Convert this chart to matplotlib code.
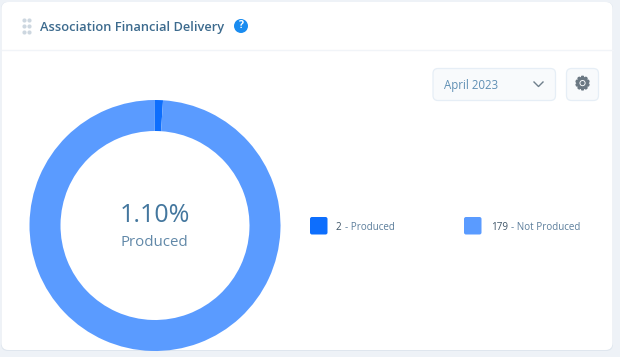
import matplotlib
matplotlib.use("Agg")
import matplotlib.pyplot as plt
import matplotlib.patheffects as pe
from matplotlib.patches import FancyBboxPatch, Circle

title = "Association Financial Delivery"
month = "April 2023"
categories = ["Produced", "Not Produced"]
values = [2, 179]
colors = ["#0d6efd", "#5a9bff"]
center_pct = "1.10%"

plt.rcParams['font.family'] = ['Open Sans', 'DejaVu Sans']
W, H = 620, 357
fig = plt.figure(figsize=(W/100, H/100), dpi=100, facecolor="#eef2f7")
bg = fig.add_axes([0, 0, 1, 1])
bg.set_xlim(0, W); bg.set_ylim(H, 0); bg.axis("off")

def rbox(x0, y0, x1, y1, r, fc, ec="none", lw=0, z=1):
    bg.add_patch(FancyBboxPatch((x0+r, y0+r), x1-x0-2*r, y1-y0-2*r,
                 boxstyle=f"round,pad={r},rounding_size={r}", fc=fc, ec=ec, lw=lw, zorder=z))

# card
rbox(1, 2, 613, 351, 7, "#dfe6ee", z=1)
rbox(1.5, 2, 612.5, 350, 7, "#ffffff", z=2)
bg.plot([1.5, 612.5], [50, 50], color="#f1f4f8", lw=1, zorder=3)

# drag dots
for dx in (23.5, 29):
    bg.scatter([dx]*3, [20, 26, 31.5], s=9, color="#cdd7e0", lw=0, zorder=4)

bg.text(39.5, 27.5, title, fontsize=9.25, color="#3d6b8e", weight=600, va="center", ha="left", zorder=4)
bg.add_patch(Circle((241, 26), 7, fc="#1a8cf0", ec="none", zorder=4))
bg.text(241, 26, "?", fontsize=7.5, color="white", weight="bold", ha="center", va="center", zorder=5)

# dropdown
rbox(433, 68.5, 555.5, 100.5, 5, "#f8fafc", "#e6eef6", 0.9, z=4)
bg.text(444, 85.5, month, fontsize=8.3, color="#5f8fb4", va="center", ha="left", zorder=5)
bg.plot([534, 538.5, 543], [82, 86.5, 82], color="#6f7f8c", lw=1.0, zorder=5)
rbox(566.5, 68.5, 598.5, 100.5, 5, "#f8fafc", "#e6eef6", 0.9, z=4)
gear = bg.text(582.5, 84.5, "\u2699", fontsize=13, color="#6b7883", family="DejaVu Sans",
               ha="center", va="center", zorder=5)
gear.set_path_effects([pe.withStroke(linewidth=1.1, foreground="#6b7883")])

# donut
cx, cy, R = 155, 225.5, 125.5
pie_ax = fig.add_axes([(cx-R)/W, 1-(cy+R)/H, 2*R/W, 2*R/H])
pie_ax.pie(values, colors=colors, startangle=90.3, counterclock=False, radius=1,
           wedgeprops=dict(width=31/R, linewidth=0))
pie_ax.set_xlim(-1, 1); pie_ax.set_ylim(-1, 1)
pie_ax.patch.set_alpha(0)

bg.text(155, 216, center_pct, fontsize=18, color="#44779e", ha="center", va="center", zorder=5)
bg.text(154, 243, categories[0], fontsize=10.8, color="#6188a8", ha="center", va="center", zorder=5)

# legend
for sx, tx, c, v, cat in zip((310, 464), (336, 491), colors, values, categories):
    rbox(sx, 217, sx+17.5, 234.5, 2, c, z=5)
    t = bg.text(tx, 227, f"{v}", fontsize=7.15, color="#3f5568", va="center", ha="left", zorder=5)
    bb = t.get_window_extent(fig.canvas.get_renderer())
    bg.text(bb.x1 + 3, 227, f"- {cat}", fontsize=7.15, color="#5d7f9c", va="center", ha="left", zorder=5)

fig.savefig("out.png", dpi=100, facecolor=fig.get_facecolor())
